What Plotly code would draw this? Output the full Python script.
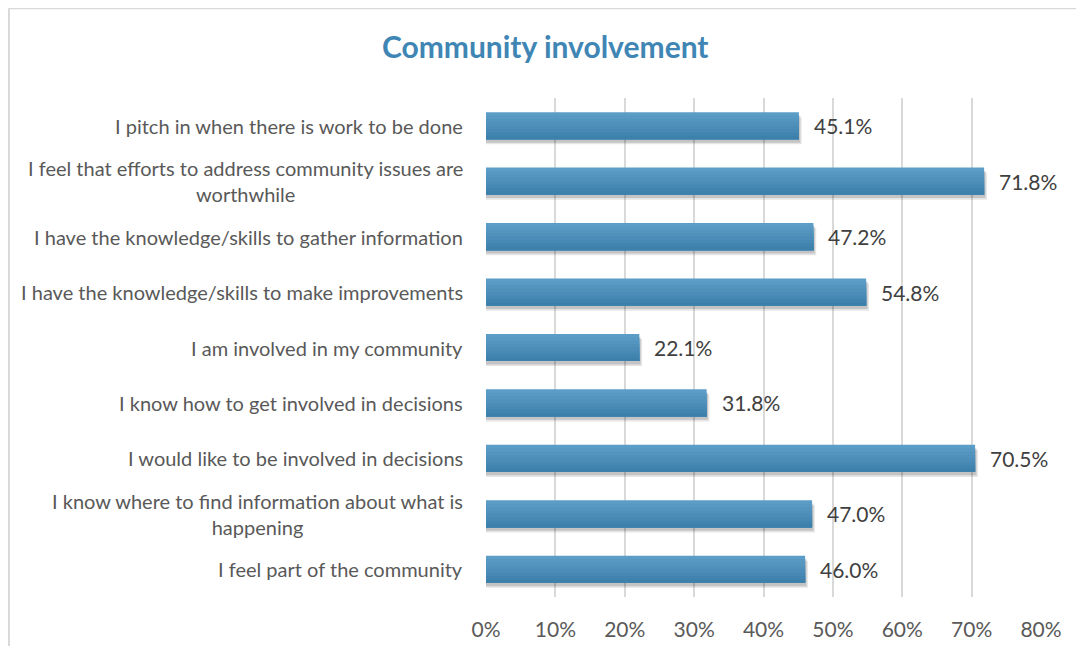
import plotly.graph_objects as go

# Dados
categorias = [
    "I pitch in when there is work to be done",
    "I feel that efforts to address community issues are<br>worthwhile",
    "I have the knowledge/skills to gather information",
    "I have the knowledge/skills to make improvements",
    "I am involved in my community",
    "I know how to get involved in decisions",
    "I would like to be involved in decisions",
    "I know where to find information about what is<br>happening",
    "I feel part of the community",
]
valores = [45.1, 71.8, 47.2, 54.8, 22.1, 31.8, 70.5, 47.0, 46.0]
ticks = [0, 10, 20, 30, 40, 50, 60, 70, 80]

fonte = "Lato"
cinza = "#595959"

# a página tem 8px de margem no body: figura um pouco menor para compensar
L, R, T, B = 478, 35, 90, 49
W, H = 1068, 638
pw, ph = W - L - R, H - T - B

x = [v / 100 for v in valores]
larg = 0.49

fig = go.Figure()

# sombra das barras
for dy, dx, a in [(0.09, 0.004, 0.10), (0.06, 0.002, 0.14)]:
    fig.add_trace(
        go.Bar(
            x = [v + dx for v in x], y = categorias, orientation = "h",
            width = larg, offset = -larg / 2 + dy,
            marker_color = f"rgba(0,0,0,{a})", marker_line_width = 0,
            showlegend = False, hoverinfo = "skip",
        )
    )

# barras com degradê (mais claro em cima)
cor_topo = (92, 157, 199)
cor_base = (62, 128, 172)
n = 8
for i in range(n):
    f = i / (n - 1)
    cor = tuple(round(a + (b - a) * f) for a, b in zip(cor_topo, cor_base))
    ini = -larg / 2 + larg * i / n
    fig.add_trace(
        go.Bar(
            x = x, y = categorias, orientation = "h",
            width = larg / 2 - ini, offset = ini,
            marker_color = "rgb(%d,%d,%d)" % cor, marker_line_width = 0,
            showlegend = False, hoverinfo = "skip",
        )
    )

# rótulos das categorias centralizados (estilo Excel)
for c in categorias:
    fig.add_annotation(
        x = 0, xref = "paper", xanchor = "right", xshift = -21,
        y = c, yref = "y",
        text = c, align = "center", showarrow = False,
        font = dict(family = fonte, size = 20, color = cinza),
    )

# rótulos de valor
for c, v in zip(categorias, valores):
    fig.add_annotation(
        x = v / 100, xref = "x", xanchor = "left", xshift = 13,
        y = c, yref = "y",
        text = f"{v:.1f}%", showarrow = False,
        font = dict(family = fonte, size = 21, color = "#404040"),
    )

fig.update_layout(
    width = W,
    height = H,
    margin = dict(l = L, r = R, t = T, b = B),
    paper_bgcolor = "white",
    plot_bgcolor = "white",
    barmode = "overlay",
    title = dict(
        text = "<b>Community involvement</b>",
        x = 0.503, xanchor = "center",
        y = 1 - 39 / H, yanchor = "middle",
        font = dict(family = fonte, size = 30, color = "#3F86B5"),
    ),
    xaxis = dict(
        range = [0, 0.8],
        tickvals = [t / 100 for t in ticks],
        ticktext = [f"{t}%" for t in ticks],
        showgrid = True,
        gridcolor = "#D9D9D9",
        gridwidth = 2,
        zeroline = False,
        showline = False,
        ticks = "",
        ticklabelstandoff = 18,
        automargin = False,
        tickfont = dict(family = fonte, size = 21, color = cinza),
    ),
    yaxis = dict(
        autorange = "reversed",
        showticklabels = False,
        showgrid = False,
        zeroline = False,
        automargin = False,
        ticks = "",
    ),
    shapes = [
        dict(type = "line", xref = "paper", yref = "paper",
             x0 = (0.5 - L) / pw, x1 = (W - L) / pw,
             y0 = 1 + (T - 0.5) / ph, y1 = 1 + (T - 0.5) / ph,
             line = dict(color = "#D9D9D9", width = 1.5)),
        dict(type = "line", xref = "paper", yref = "paper",
             x0 = (1 - L) / pw, x1 = (1 - L) / pw,
             y0 = 1 + (T - 0.5) / ph, y1 = -B / ph,
             line = dict(color = "#D9D9D9", width = 2)),
    ],
)

fig.write_html("out.html")
